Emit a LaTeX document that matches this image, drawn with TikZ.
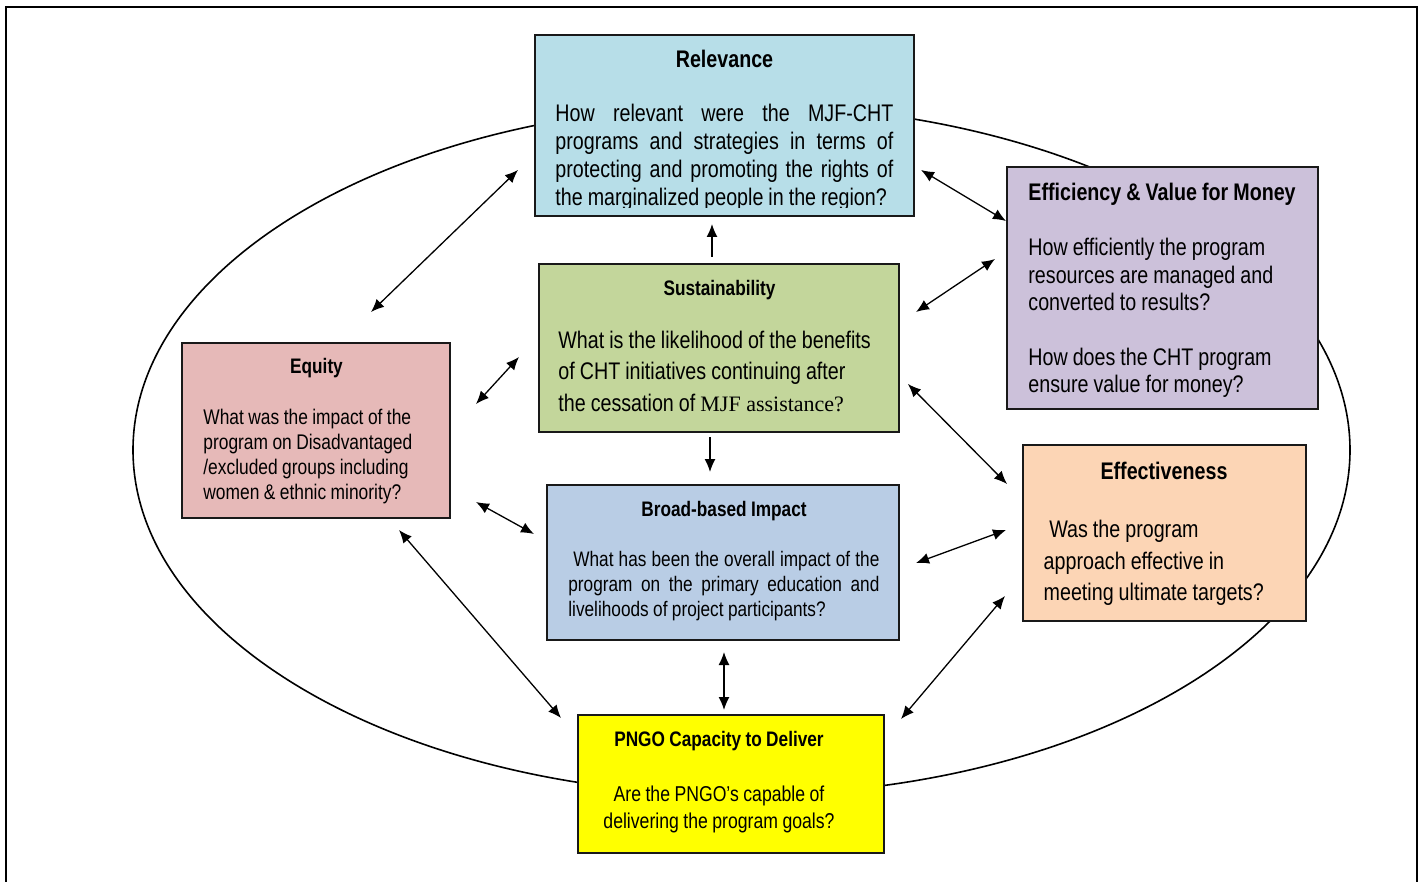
\documentclass[tikz,border=0pt]{standalone}
\usepackage{fontspec}
\setmainfont{Liberation Sans}[FakeStretch=0.82, WordSpace=0.92]
\newfontfamily\serifpart{Liberation Serif}
\usetikzlibrary{arrows.meta}

\definecolor{relfill}{HTML}{B7DEE8}
\definecolor{susfill}{HTML}{C3D69B}
\definecolor{efffill}{HTML}{CCC1DA}
\definecolor{equfill}{HTML}{E6B9B8}
\definecolor{brofill}{HTML}{B9CDE5}
\definecolor{efcfill}{HTML}{FCD5B5}
\definecolor{pngfill}{HTML}{FFFF00}

\begin{document}
\begin{tikzpicture}[x=0.5pt,y=-0.5pt,
  panel/.style={draw=black!90, line width=1pt, inner sep=0pt, outer sep=0pt},
  head/.style={font=\bfseries\fontsize{#1}{#1}\selectfont, inner sep=0pt, anchor=base},
  body/.style={inner sep=0pt, anchor=base west, align=flush left},
  tip/.tip={Latex[length=6.5pt,width=5.5pt]},
  link/.style={line width=0.65pt, tip-tip},
  onelink/.style={line width=0.65pt, -tip}]

\useasboundingbox (0,0) rectangle (1424,882);
\clip (0,0) rectangle (1424,882);

% outer frame
\draw[line width=1.1pt] (6,7) rectangle (1417,900);

% ring linking all criteria
\draw[line width=0.8pt] (741.5,450) ellipse [x radius=304.25pt, y radius=172.5pt];

% criterion panels
\node[panel, fill=relfill, minimum width=189.5pt, minimum height=90.5pt] (rel) at (724.5,125.5) {};
\node[panel, fill=susfill, minimum width=180pt, minimum height=84pt] (sus) at (719,348) {};
\node[panel, fill=efffill, minimum width=155.5pt, minimum height=121pt] (eff) at (1162.5,288) {};
\node[panel, fill=equfill, minimum width=134pt, minimum height=87.5pt] (equ) at (316,430.5) {};
\node[panel, fill=brofill, minimum width=176pt, minimum height=77.5pt] (bro) at (723,562.5) {};
\node[panel, fill=efcfill, minimum width=141.5pt, minimum height=88pt] (efc) at (1164.5,533) {};
\node[panel, fill=pngfill, minimum width=153pt, minimum height=69pt] (png) at (731,784) {};

% Relevance
\node[head=12] (rel-t) at (724.5,68) {Relevance};
\begin{scope}
  \clip (537,37) rectangle (912,208);
  \node[body, text width=169pt, align=justify, font=\fontsize{12}{13.85}\selectfont] (rel-b) at (555,122)
    {How relevant were the MJF-CHT\linebreak
     programs and strategies in terms of\linebreak
     protecting and promoting the rights of\linebreak
     the marginalized people in the region?};
\end{scope}

% Sustainability
\node[head=10.5] (sus-t) at (719.5,295) {Sustainability};
\node[body, text width=172pt, font=\fontsize{12}{16}\selectfont] (sus-b) at (558,348)
  {What is the likelihood of the benefits\\
   of CHT initiatives continuing after\\
   the cessation of {\serifpart\fontsize{11}{16}\selectfont MJF assistance?}};

% Efficiency & Value for Money
\node[head=12, anchor=base west] (eff-t) at (1028,201) {Efficiency \& Value for Money};
\node[body, text width=140pt, font=\fontsize{12}{13.65}\selectfont] (eff-b) at (1028,256)
  {How efficiently the program\\
   resources are managed and\\
   converted to results?\\[13.65pt]
   How does the CHT program\\
   ensure value for money?};

% Equity
\node[head=10.5] (equ-t) at (316.5,373) {Equity};
\node[body, text width=120pt, font=\fontsize{10.6}{12.6}\selectfont] (equ-b) at (203,424)
  {What was the impact of the\\
   program on Disadvantaged\\
   /excluded groups including\\
   women \& ethnic minority?};

% Broad-based Impact
\node[head=10.5] (bro-t) at (724,516) {Broad-based Impact};
\node[body, text width=155.5pt, align=justify, font=\fontsize{10.5}{12.5}\selectfont] (bro-b) at (568,566.7)
  {\hspace*{2.5pt}What has been the overall impact of the\linebreak
   program on the primary education and\linebreak
   livelihoods of project participants?};

% Effectiveness
\node[head=12] (efc-t) at (1164,479) {Effectiveness};
\node[body, text width=125pt, font=\fontsize{12}{15.85}\selectfont] (efc-b) at (1043.3,537.5)
  {\hspace*{2.8pt}Was the program\\
   approach effective in\\
   meeting ultimate targets?};

% PNGO Capacity to Deliver
\node[head=10.5] (png-t) at (719,746) {PNGO Capacity to Deliver};
\node[body, anchor=base, text width=140pt, align=flush center, font=\fontsize{10.75}{13.9}\selectfont] (png-b) at (719,801)
  {Are the PNGO’s capable of\\
   delivering the program goals?};

% connector end points
\coordinate (rel-equ) at (518,170);  \coordinate (equ-rel) at (371,312);
\coordinate (rel-eff) at (921,170);  \coordinate (eff-rel) at (1006,221);
\coordinate (sus-rel) at (712,257);  \coordinate (rel-sus) at (712,224);
\coordinate (sus-bro) at (710,437);  \coordinate (bro-sus) at (710,472);
\coordinate (sus-eff) at (916,312);  \coordinate (eff-sus) at (995,259);
\coordinate (sus-equ) at (519,357);  \coordinate (equ-sus) at (476,404);
\coordinate (sus-efc) at (908,384);  \coordinate (efc-sus) at (1007,484);
\coordinate (equ-bro) at (476,502);  \coordinate (bro-equ) at (534,534);
\coordinate (bro-efc) at (916,563);  \coordinate (efc-bro) at (1006,530);
\coordinate (equ-png) at (399,530);  \coordinate (png-equ) at (561,718);
\coordinate (bro-png) at (724,652);  \coordinate (png-bro) at (724,710);
\coordinate (efc-png) at (1005,596); \coordinate (png-efc) at (901,719);

% connectors
\draw[link] (rel-equ) -- (equ-rel);
\draw[link] (rel-eff) -- (eff-rel);
\draw[onelink] (sus-rel) -- (rel-sus);
\draw[onelink] (sus-bro) -- (bro-sus);
\draw[link] (sus-eff) -- (eff-sus);
\draw[link] (sus-equ) -- (equ-sus);
\draw[link] (sus-efc) -- (efc-sus);
\draw[link] (equ-bro) -- (bro-equ);
\draw[link] (bro-efc) -- (efc-bro);
\draw[link] (equ-png) -- (png-equ);
\draw[link] (bro-png) -- (png-bro);
\draw[link] (efc-png) -- (png-efc);
\end{tikzpicture}
\end{document}
